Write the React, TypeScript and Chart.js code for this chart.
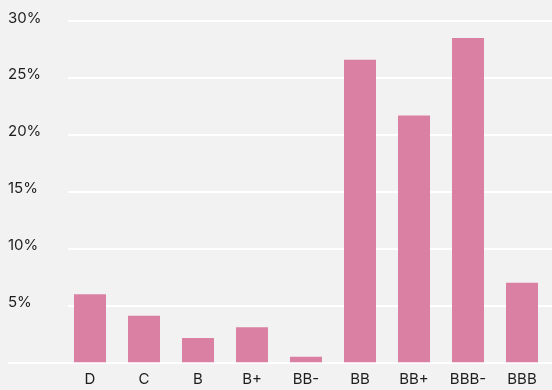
import React, { useEffect, useRef } from "react";
import { Chart, registerables } from "chart.js";

Chart.register(...registerables);

// Rating categories along the x axis
const ratings: string[] = ["D", "C", "B", "B+", "BB-", "BB", "BB+", "BBB-", "BBB"];
// Share of each rating, in percent
const shares: number[] = [6.0, 4.1, 2.15, 3.1, 0.5, 26.6, 21.7, 28.5, 7.0];
// Y axis tick values (percent)
const yTicks: number[] = [0, 5, 10, 15, 20, 25, 30];

const BG = "#f2f2f2";
const BAR = "#d980a3";
const TEXT = "#1e1e1e";
const FONT = "Inter, 'DejaVu Sans', sans-serif";

// White horizontal guide lines; the zero line runs further left as the baseline
const guideLines = {
  id: "guideLines",
  beforeDatasetsDraw(chart: any) {
    const { ctx } = chart;
    const y = chart.scales.y;
    ctx.save();
    ctx.strokeStyle = "#ffffff";
    ctx.lineWidth = 2;
    yTicks.forEach((v) => {
      const py = Math.round(y.getPixelForValue(v));
      const startX = v === 0 ? 8 : 68;
      ctx.beginPath();
      ctx.moveTo(startX, py);
      ctx.lineTo(chart.width, py);
      ctx.stroke();
    });
    ctx.restore();
  },
};

export default function App() {
  const canvasRef = useRef<HTMLCanvasElement | null>(null);

  useEffect(() => {
    document.body.style.margin = "0";
    document.body.style.background = BG;
    const canvas = canvasRef.current;
    if (!canvas) return;
    const chart = new Chart(canvas, {
      type: "bar",
      data: {
        labels: ratings,
        datasets: [
          {
            data: shares,
            backgroundColor: BAR,
            borderWidth: 0,
            barPercentage: 0.593,
            categoryPercentage: 1,
          },
        ],
      },
      options: {
        animation: false,
        responsive: false,
        devicePixelRatio: 1,
        layout: { padding: { left: 8, right: 3, top: 21, bottom: 0 } },
        plugins: {
          legend: { display: false },
          tooltip: { enabled: false },
        },
        scales: {
          x: {
            grid: { display: false, drawTicks: false },
            border: { display: false },
            ticks: {
              color: TEXT,
              font: { family: FONT, size: 15 },
              padding: 8,
              maxRotation: 0,
            },
            afterFit(scale: any) {
              scale.height = 27.5;
            },
          },
          y: {
            min: 0,
            max: 30,
            afterBuildTicks(scale: any) {
              scale.ticks = yTicks.map((v) => ({ value: v }));
            },
            grid: { display: false, drawTicks: false },
            border: { display: false },
            ticks: {
              color: TEXT,
              font: { family: FONT, size: 15 },
              crossAlign: "far",
              labelOffset: -3,
              callback: (v: any) => (Number(v) === 0 ? "" : `${v}%`),
            },
            afterFit(scale: any) {
              scale.width = 55;
            },
          },
        },
      },
      plugins: [guideLines],
    });
    return () => chart.destroy();
  }, []);

  return (
    <div
      style={{
        position: "absolute",
        left: 0,
        top: 0,
        width: 552,
        height: 390,
        background: BG,
      }}
    >
      <canvas ref={canvasRef} width={552} height={390} />
    </div>
  );
}
